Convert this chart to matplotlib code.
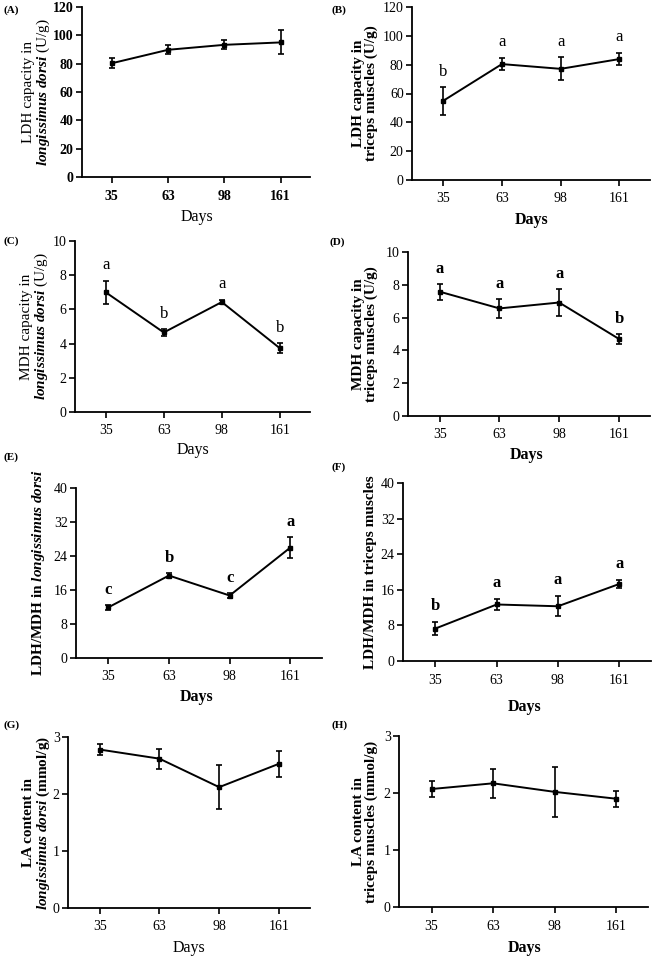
import matplotlib
matplotlib.use("Agg")
import matplotlib.pyplot as plt

plt.rcParams['font.family'] = ['Liberation Serif', 'DejaVu Serif']
plt.rcParams['mathtext.fontset'] = 'custom'
plt.rcParams['mathtext.rm'] = 'Liberation Serif'
plt.rcParams['mathtext.it'] = 'Liberation Serif:italic'
plt.rcParams['mathtext.bf'] = 'Liberation Serif:bold'
plt.rcParams['mathtext.bfit'] = 'Liberation Serif:bold:italic'

days = ["35", "63", "98", "161"]

ldh_ld = [80.3, 89.8, 93.3, 95.0]
ldh_ld_err = [3.5, 3.3, 3.3, 8.5]

ldh_tm = [54.9, 80.4, 77.1, 83.9]
ldh_tm_err = [9.5, 4.4, 7.9, 4.4]
ldh_tm_letters = ["b", "a", "a", "a"]

mdh_ld = [7.0, 4.65, 6.43, 3.73]
mdh_ld_err = [0.68, 0.2, 0.13, 0.3]
mdh_ld_letters = ["a", "b", "a", "b"]

mdh_tm = [7.58, 6.56, 6.92, 4.70]
mdh_tm_err = [0.49, 0.58, 0.85, 0.32]
mdh_tm_letters = ["a", "a", "a", "b"]

ratio_ld = [11.9, 19.4, 14.7, 26.0]
ratio_ld_err = [0.5, 0.6, 0.6, 2.5]
ratio_ld_letters = ["c", "b", "c", "a"]

ratio_tm = [7.3, 12.7, 12.3, 17.3]
ratio_tm_err = [1.4, 1.3, 2.25, 0.9]
ratio_tm_letters = ["b", "a", "a", "a"]

la_ld = [2.78, 2.62, 2.12, 2.53]
la_ld_err = [0.1, 0.175, 0.39, 0.23]

la_tm = [2.07, 2.17, 2.02, 1.90]
la_tm_err = [0.14, 0.25, 0.44, 0.14]

W, H = 659, 960
fig = plt.figure(figsize=(W / 100, H / 100), dpi=100)

BI = r"$\mathbfit{longissimus\ dorsi}$"

panels = [
    dict(tag="(A)", box=(82, 310, 7, 177), v=ldh_ld, e=ldh_ld_err, L=None,
         ylim=120, yt=[0, 20, 40, 60, 80, 100, 120],
         yl="LDH capacity in\n" + BI + " (U/g)", ylw="normal", tw="bold", dw="normal", lw="normal",
         ylx=-0.197, dpos=(0.504, -0.235), tpos=(4, 10)),
    dict(tag="(B)", box=(412, 650, 7, 180), v=ldh_tm, e=ldh_tm_err, L=ldh_tm_letters,
         ylim=120, yt=[0, 20, 40, 60, 80, 100, 120],
         yl="LDH capacity in\ntriceps muscles (U/g)", ylw="bold", tw="normal", dw="bold", lw="normal",
         ylx=-0.197, dpos=(0.504, -0.231), tpos=(332, 10)),
    dict(tag="(C)", box=(75, 310, 241, 412), v=mdh_ld, e=mdh_ld_err, L=mdh_ld_letters,
         ylim=10, yt=[0, 2, 4, 6, 8, 10],
         yl="MDH capacity in\n" + BI + " (U/g)", ylw="normal", tw="normal", dw="normal", lw="normal",
         ylx=-0.17, dpos=(0.50, -0.222), tpos=(3, 241)),
    dict(tag="(D)", box=(408, 650, 252, 416), v=mdh_tm, e=mdh_tm_err, L=mdh_tm_letters,
         ylim=10, yt=[0, 2, 4, 6, 8, 10],
         yl="MDH capacity in\ntriceps muscles (U/g)", ylw="bold", tw="normal", dw="bold", lw="bold",
         ylx=-0.178, dpos=(0.49, -0.238), tpos=(330, 242)),
    dict(tag="(E)", box=(76, 322, 488, 658), v=ratio_ld, e=ratio_ld_err, L=ratio_ld_letters,
         ylim=40, yt=[0, 8, 16, 24, 32, 40],
         yl="LDH/MDH in " + BI, ylw="bold", tw="normal", dw="bold", lw="bold",
         ylx=-0.154, dpos=(0.49, -0.229), tpos=(4, 457)),
    dict(tag="(F)", box=(403, 651, 483, 661), v=ratio_tm, e=ratio_tm_err, L=ratio_tm_letters,
         ylim=40, yt=[0, 8, 16, 24, 32, 40],
         yl="LDH/MDH in triceps muscles", ylw="bold", tw="normal", dw="bold", lw="bold",
         ylx=-0.133, dpos=(0.49, -0.258), tpos=(332, 467)),
    dict(tag="(G)", box=(68, 310, 737, 908), v=la_ld, e=la_ld_err, L=None,
         ylim=3, yt=[0, 1, 2, 3],
         yl="LA content in\n" + BI + " (mmol/g)", ylw="bold", tw="normal", dw="normal", lw="normal",
         ylx=-0.128, dpos=(0.50, -0.234), tpos=(3, 725)),
    dict(tag="(H)", box=(399, 648, 736, 907), v=la_tm, e=la_tm_err, L=None,
         ylim=3, yt=[0, 1, 2, 3],
         yl="LA content in\ntriceps muscles (mmol/g)", ylw="bold", tw="normal", dw="bold", lw="normal",
         ylx=-0.137, dpos=(0.506, -0.24), tpos=(332, 725)),
]

x = list(range(len(days)))
for p in panels:
    l, r, t, b = p["box"]
    ax = fig.add_axes([l / W, 1 - b / H, (r - l) / W, (b - t) / H])
    ax.errorbar(x, p["v"], yerr=p["e"], color="black", lw=1.4, elinewidth=1.2,
                capsize=2.5, capthick=1.2, marker="s", markersize=3.5)
    ax.set_xlim(-0.53, 3.52)
    ax.set_ylim(0, p["ylim"])
    ax.set_yticks(p["yt"])
    ax.set_xticks(x)
    ax.set_xticklabels(days)
    for s in ["top", "right"]:
        ax.spines[s].set_visible(False)
    for s in ["left", "bottom"]:
        ax.spines[s].set_linewidth(1.3)
    ax.tick_params(direction="out", length=4, width=1.2, labelsize=10, pad=2)
    ax.tick_params(axis="x", pad=5)
    for lab in ax.get_xticklabels() + ax.get_yticklabels():
        lab.set_fontweight(p["tw"])
    ax.text(p["ylx"], 0.5, p["yl"], transform=ax.transAxes, rotation=90,
            ha="center", va="center", multialignment="center", linespacing=1.0,
            fontsize=11, fontweight=p["ylw"])
    ax.text(p["dpos"][0], p["dpos"][1], "Days", transform=ax.transAxes,
            ha="center", va="center", fontsize=11.5, fontweight=p["dw"])
    if p["L"]:
        off = p["ylim"] * 0.09
        for xi, (v, e, s) in enumerate(zip(p["v"], p["e"], p["L"])):
            ax.text(xi, v + e + off, s, ha="center", va="center",
                    fontsize=12, fontweight=p["lw"])
    fig.text(p["tpos"][0] / W, 1 - p["tpos"][1] / H, p["tag"], ha="left", va="center",
             fontsize=8, fontweight="bold")

fig.savefig("out.png", dpi=100)
